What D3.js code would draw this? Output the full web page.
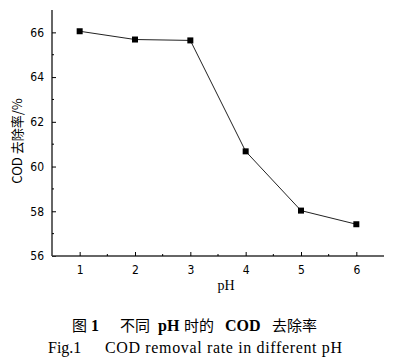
<!DOCTYPE html>
<html>
<head>
<meta charset="utf-8">
<script src="https://cdn.jsdelivr.net/npm/d3@7"></script>
<style>
  body { margin: 0; background: #fff; }
  svg { display: block; }
</style>
</head>
<body>
<div id="chart"></div>
<script>
// data
var phValues = [1, 2, 3, 4, 5, 6];
var codRemoval = [66.05, 65.68, 65.64, 60.68, 58.03, 57.42];
var yTicks = [56, 58, 60, 62, 64, 66];
var yMinor = [57, 59, 61, 63, 65];
var xMinor = [1.5, 2.5, 3.5, 4.5, 5.5];

var W = 394, H = 364;

var svg = d3.select("#chart")
  .append("svg")
    .attr("width", W)
    .attr("height", H);

// scales
var x = d3.scaleLinear().domain([0.5, 6.5]).range([52, 384]);
var y = d3.scaleLinear().domain([56, 67]).range([256, 10]);

var tickFont = "'DejaVu Sans Condensed', 'Liberation Sans Narrow', sans-serif";

// y axis (ticks inside)
var yAxis = svg.append("g")
  .attr("transform", "translate(" + x(0.5) + ",0)")
  .call(d3.axisRight(y).tickValues(yTicks).tickSize(4).tickFormat(d3.format("d")));
yAxis.selectAll("text")
  .attr("x", -8)
  .style("text-anchor", "end")
  .style("font-family", tickFont)
  .style("font-stretch", "condensed")
  .style("font-size", "12px")
  .attr("fill", "#000");
yAxis.selectAll("line").attr("stroke", "#000");
yAxis.select(".domain").attr("d", "M0," + y(67) + "V" + y(56)).attr("stroke", "#333").attr("stroke-width", 1.5);

svg.append("g").selectAll("line")
  .data(yMinor).enter().append("line")
    .attr("x1", x(0.5)).attr("x2", x(0.5) + 2)
    .attr("y1", function(d) { return y(d); })
    .attr("y2", function(d) { return y(d); })
    .attr("stroke", "#000");

// x axis (ticks inside)
var xAxis = svg.append("g")
  .attr("transform", "translate(0," + y(56) + ")")
  .call(d3.axisTop(x).tickValues(phValues).tickSize(4).tickFormat(d3.format("d")));
xAxis.selectAll("text")
  .attr("y", 18)
  .style("font-family", tickFont)
  .style("font-stretch", "condensed")
  .style("font-size", "12px")
  .attr("fill", "#000");
xAxis.selectAll("line").attr("stroke", "#000");
xAxis.select(".domain").attr("d", "M" + x(0.5) + ",0H" + x(6.5)).attr("stroke", "#333").attr("stroke-width", 1.5);

svg.append("g").selectAll("line")
  .data(xMinor).enter().append("line")
    .attr("x1", function(d) { return x(d); })
    .attr("x2", function(d) { return x(d); })
    .attr("y1", y(56)).attr("y2", y(56) - 2)
    .attr("stroke", "#000");

// axis titles
svg.append("text")
  .attr("transform", "translate(22,141) rotate(-90)")
  .attr("text-anchor", "middle")
  .style("font-family", "'Noto Sans CJK SC', 'Liberation Sans', sans-serif")
  .style("font-size", "13px")
  .text("COD 去除率/%");

svg.append("text")
  .attr("x", 226).attr("y", 290)
  .attr("text-anchor", "middle")
  .style("font-family", "'Liberation Serif', serif")
  .style("font-size", "14px")
  .text("pH");

// line + markers
var pts = phValues.map(function(d, i) { return {ph: d, v: codRemoval[i]}; });

svg.append("path")
  .datum(pts)
  .attr("fill", "none")
  .attr("stroke", "#222")
  .attr("stroke-width", 1)
  .attr("d", d3.line().x(function(d) { return x(d.ph); }).y(function(d) { return y(d.v); }));

svg.append("g").selectAll("rect")
  .data(pts).enter().append("rect")
    .attr("x", function(d) { return x(d.ph) - 3; })
    .attr("y", function(d) { return y(d.v) - 3; })
    .attr("width", 6).attr("height", 6)
    .attr("fill", "#000");

// captions, pieces placed like the printed layout
var cjk = "'Noto Sans CJK SC', serif", serif = "'Liberation Serif', serif";
var cap1 = [
  {t: "图", x: 72, f: cjk, w: "normal"},
  {t: "1", x: 91, f: serif, w: "bold"},
  {t: "不同", x: 120, f: cjk, w: "normal"},
  {t: "pH", x: 158, f: serif, w: "bold"},
  {t: "时的", x: 184, f: cjk, w: "normal"},
  {t: "COD", x: 225, f: serif, w: "bold"},
  {t: "去除率", x: 272, f: cjk, w: "normal"}
];
svg.append("g").selectAll("text")
  .data(cap1).enter().append("text")
    .attr("x", function(d) { return d.x; })
    .attr("y", 331)
    .style("font-family", function(d) { return d.f; })
    .style("font-weight", function(d) { return d.w; })
    .style("font-size", function(d) { return d.f === serif ? "16px" : "15px"; })
    .text(function(d) { return d.t; });

svg.append("text")
  .attr("x", 48).attr("y", 353)
  .style("font-family", serif)
  .style("font-size", "16px")
  .text("Fig.1");
svg.append("text")
  .attr("x", 105).attr("y", 353)
  .attr("textLength", 237)
  .style("font-family", serif)
  .style("font-size", "16px")
  .text("COD removal rate in different pH");
</script>
</body>
</html>
